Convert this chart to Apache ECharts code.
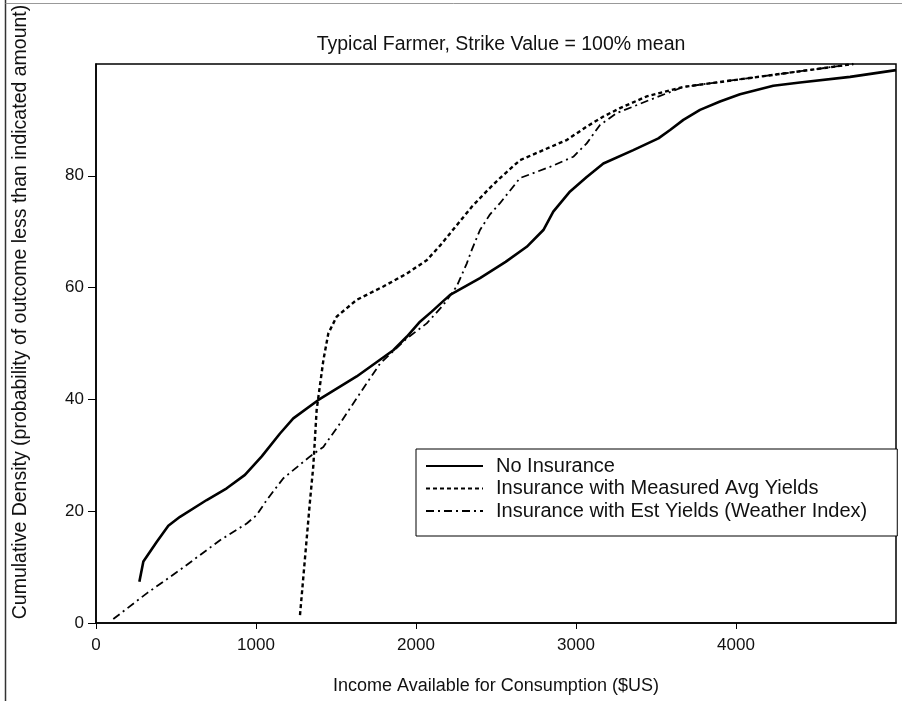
<!DOCTYPE html>
<html>
<head>
<meta charset="utf-8">
<script src="https://cdn.jsdelivr.net/npm/echarts@6/dist/echarts.min.js"></script>
<style>
  html, body { margin: 0; padding: 0; background: #fff; }
  #main { width: 902px; height: 701px; }
</style>
</head>
<body>
<div id="main"></div>
<script>
// income ($US) and cumulative density (%)
const noInsIncome = [271, 296, 379, 452, 525, 692, 817, 931, 1036, 1150, 1233, 1390, 1629, 1858, 1942, 2025, 2098, 2213, 2400, 2560, 2692, 2796, 2858, 2963, 3067, 3171, 3358, 3515, 3588, 3671, 3775, 3900, 4025, 4233, 4400, 4713, 5000];
const noInsCdf = [7.4, 11.0, 14.5, 17.4, 19.0, 22.0, 24.1, 26.5, 29.8, 33.9, 36.6, 39.9, 44.1, 48.8, 51.2, 53.9, 55.7, 58.7, 61.7, 64.6, 67.3, 70.3, 73.6, 77.2, 79.8, 82.2, 84.6, 86.7, 88.2, 90.0, 91.8, 93.3, 94.6, 96.1, 96.7, 97.7, 98.9];

const measIncome = [1275, 1338, 1358, 1379, 1421, 1452, 1504, 1629, 1796, 1942, 2067, 2150, 2250, 2350, 2450, 2525, 2650, 2796, 2942, 3067, 3171, 3275, 3442, 3671, 3983, 4296, 4608, 4733];
const measCdf = [1.4, 22.0, 28.0, 38.1, 47.0, 51.8, 54.8, 57.8, 60.2, 62.5, 64.9, 67.5, 71.0, 74.5, 77.5, 79.6, 82.8, 84.6, 86.4, 88.8, 90.6, 92.1, 94.2, 95.9, 97.1, 98.3, 99.5, 100];

const estIncome = [108, 317, 525, 775, 942, 1004, 1067, 1171, 1338, 1421, 1525, 1650, 1775, 1942, 2067, 2171, 2254, 2317, 2348, 2400, 2460, 2525, 2650, 2838, 2983, 3067, 3150, 3254, 3463, 3671, 3983, 4296, 4608, 4733];
const estCdf = [0.7, 5.3, 9.5, 14.8, 17.8, 19.3, 22.0, 25.9, 29.8, 31.5, 35.7, 41.1, 46.4, 50.9, 53.6, 56.9, 60.2, 64.3, 66.7, 70.3, 73.0, 75.1, 79.6, 81.6, 83.4, 85.8, 89.1, 91.2, 93.6, 95.9, 97.1, 98.3, 99.5, 100];

const seriesNames = ['No Insurance', 'Insurance with Measured Avg Yields', 'Insurance with Est Yields (Weather Index)'];
const xTicks = [0, 1000, 2000, 3000, 4000];
const yTicks = [0, 20, 40, 60, 80];

const font = "'Liberation Sans', Arial, sans-serif";

const pairs = (xs, ys) => xs.map((x, i) => [x, ys[i]]);

const chart = echarts.init(document.getElementById('main'));

const option = {
  backgroundColor: '#fff',
  animation: false,
  title: {
    text: 'Typical Farmer, Strike Value = 100% mean',
    left: 496, top: 30, textAlign: 'center',
    textStyle: { fontFamily: font, fontSize: 19.5, fontWeight: 'normal', color: '#111' }
  },
  grid: {
    left: 96, right: 6, top: 64, bottom: 78,
    show: true, borderColor: '#000', borderWidth: 1.5, backgroundColor: 'transparent'
  },
  legend: {
    orient: 'vertical',
    left: 416, top: 449,
    padding: [7, 30, 15, 9],
    itemWidth: 57, itemHeight: 14, itemGap: 2.5,
    backgroundColor: '#fff',
    borderColor: '#000', borderWidth: 1,
    itemStyle: { opacity: 0 },
    textStyle: { fontFamily: font, fontSize: 20, lineHeight: 20, color: '#111', padding: [0, 0, 0, 8] },
    data: seriesNames
  },
  xAxis: {
    type: 'value', min: 0, max: 5000, interval: 1000,
    name: 'Income Available for Consumption ($US)',
    nameLocation: 'middle', nameGap: 54,
    nameTextStyle: { fontFamily: font, fontSize: 18, color: '#111' },
    axisLine: { lineStyle: { color: '#000', width: 1.5 } },
    axisTick: { show: true, length: 6, customValues: xTicks, lineStyle: { color: '#000' } },
    axisLabel: {
      fontFamily: font, fontSize: 17, color: '#111', margin: 14,
      customValues: xTicks,
      formatter: v => String(v)
    },
    splitLine: { show: false }
  },
  yAxis: {
    type: 'value', min: 0, max: 100, interval: 20,
    axisLine: { show: true, lineStyle: { color: '#000', width: 1.5 } },
    axisTick: { show: true, length: 8, customValues: yTicks, lineStyle: { color: '#000' } },
    axisLabel: {
      fontFamily: font, fontSize: 17, color: '#111', margin: 12,
      customValues: yTicks,
      formatter: v => String(v)
    },
    splitLine: { show: false }
  },
  graphic: [
    {
      type: 'text', x: 21, y: 312, rotation: Math.PI / 2,
      style: {
        text: 'Cumulative Density (probability of outcome less than indicated amount)',
        fontFamily: font, fontSize: 19.5, fill: '#111', align: 'center', verticalAlign: 'middle'
      }
    },
    { type: 'line', shape: { x1: 5.5, y1: 0, x2: 5.5, y2: 701 }, style: { stroke: '#333', lineWidth: 1.5 } },
    { type: 'line', shape: { x1: 5.5, y1: 3.5, x2: 902, y2: 3.5 }, style: { stroke: '#999', lineWidth: 1 } }
  ],
  series: [
    {
      name: seriesNames[0], type: 'line', data: pairs(noInsIncome, noInsCdf),
      showSymbol: false, symbol: 'none',
      lineStyle: { color: '#000', width: 2.6, type: 'solid' },
      itemStyle: { color: '#000' }
    },
    {
      name: seriesNames[1], type: 'line', data: pairs(measIncome, measCdf),
      showSymbol: false, symbol: 'none',
      lineStyle: { color: '#000', width: 2.4, type: [4, 3] },
      itemStyle: { color: '#000' }
    },
    {
      name: seriesNames[2], type: 'line', data: pairs(estIncome, estCdf),
      showSymbol: false, symbol: 'none',
      lineStyle: { color: '#000', width: 1.8, type: [8, 4, 2, 4] },
      itemStyle: { color: '#000' }
    }
  ]
};

chart.setOption(option);
</script>
</body>
</html>
